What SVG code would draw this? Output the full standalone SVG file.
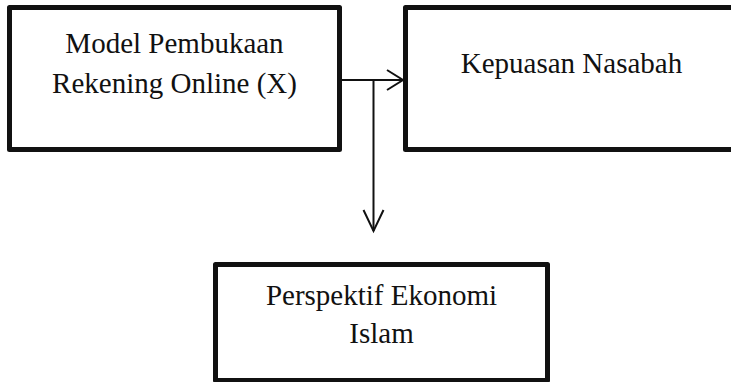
<svg xmlns="http://www.w3.org/2000/svg" width="731" height="382" viewBox="0 0 731 382">
<style>
.box{fill:#fff;stroke:#111;stroke-width:5;stroke-linejoin:round}
.t{font-family:"Liberation Serif","Times New Roman",serif;font-size:29px;fill:#111;text-anchor:middle}
.c{fill:none;stroke:#111;stroke-width:2}
</style>
<rect width="731" height="382" fill="#fff"/>
<g id="node-model">
<rect class="box" x="9.5" y="7.5" width="330" height="142"/>
<text class="t" x="174.5" y="53">Model Pembukaan</text>
<text class="t" x="174.5" y="93">Rekening Online (X)</text>
</g>
<g id="node-kepuasan">
<rect class="box" x="405.5" y="7.5" width="332" height="142"/>
<text class="t" x="571.5" y="73">Kepuasan Nasabah</text>
</g>
<g id="node-perspektif">
<rect class="box" x="215.5" y="264.5" width="332" height="116"/>
<text class="t" x="381.5" y="305">Perspektif Ekonomi</text>
<text class="t" x="381.5" y="343">Islam</text>
</g>
<g id="connectors">
<path class="c" d="M342 80H403"/>
<path class="c" d="M387 70L403 80L387 90"/>
<path class="c" d="M373.5 80V231"/>
<path class="c" d="M363.5 210L373.5 231L383.5 210"/>
</g>
</svg>
